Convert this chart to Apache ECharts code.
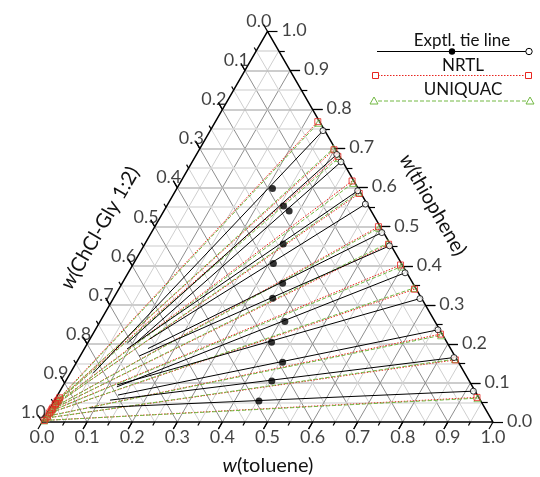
<!DOCTYPE html>
<html>
<head>
<meta charset="utf-8">
<script src="https://cdn.jsdelivr.net/npm/echarts@6/dist/echarts.min.js"></script>
<style>
  html, body { margin: 0; background: #fff; }
  #main { width: 540px; height: 477px; }
</style>
</head>
<body>
<div id="main"></div>
<script>
// tick values and labels (shared by the three ternary axes)
const ticks = [0, 0.1, 0.2, 0.3, 0.4, 0.5, 0.6, 0.7, 0.8, 0.9, 1.0];
const tickLabels = ['0.0', '0.1', '0.2', '0.3', '0.4', '0.5', '0.6', '0.7', '0.8', '0.9', '1.0'];
const gridSteps = [0.05, 0.1, 0.15, 0.2, 0.25, 0.3, 0.35, 0.4, 0.45, 0.5, 0.55, 0.6, 0.65, 0.7, 0.75, 0.8, 0.85, 0.9, 0.95];

// experimental tie lines: mass fractions (toluene, thiophene)
const expExtTol   = [0.051, 0.088, 0.106, 0.095, 0.133, 0.141, 0.131, 0.121, 0.119, 0.134, 0.123, 0.088];
const expExtThio  = [0.125, 0.202, 0.201, 0.187, 0.213, 0.188, 0.169, 0.090, 0.095, 0.069, 0.056, 0.036];
const expFeedTol  = [0.212, 0.259, 0.278, 0.307, 0.310, 0.356, 0.353, 0.410, 0.407, 0.457, 0.457, 0.454];
const expFeedThio = [0.598, 0.553, 0.540, 0.456, 0.406, 0.355, 0.317, 0.257, 0.204, 0.153, 0.105, 0.054];
const expRaffTol  = [0.250, 0.311, 0.330, 0.404, 0.438, 0.511, 0.545, 0.614, 0.680, 0.760, 0.831, 0.917];
const expRaffThio = [0.746, 0.685, 0.666, 0.592, 0.558, 0.485, 0.451, 0.382, 0.316, 0.236, 0.165, 0.079];

// NRTL correlation
const nrtlExtTol   = [0.008, 0.008, 0.007, 0.007, 0.007, 0.006, 0.006, 0.006, 0.005, 0.005, 0.004, 0.003];
const nrtlExtThio  = [0.062, 0.056, 0.053, 0.047, 0.044, 0.036, 0.032, 0.028, 0.023, 0.015, 0.010, 0.004];
const nrtlRaffTol  = [0.227, 0.299, 0.316, 0.379, 0.411, 0.496, 0.541, 0.594, 0.656, 0.771, 0.837, 0.933];
const nrtlRaffThio = [0.769, 0.697, 0.680, 0.617, 0.585, 0.500, 0.455, 0.402, 0.340, 0.225, 0.159, 0.063];

// UNIQUAC correlation
const uniqExtTol   = [0.009, 0.008, 0.008, 0.007, 0.007, 0.006, 0.006, 0.005, 0.005, 0.005, 0.004, 0.003];
const uniqExtThio  = [0.060, 0.055, 0.052, 0.046, 0.043, 0.036, 0.032, 0.027, 0.023, 0.015, 0.010, 0.004];
const uniqRaffTol  = [0.230, 0.296, 0.320, 0.384, 0.408, 0.499, 0.538, 0.598, 0.653, 0.774, 0.835, 0.935];
const uniqRaffThio = [0.766, 0.700, 0.676, 0.612, 0.588, 0.497, 0.458, 0.398, 0.343, 0.222, 0.161, 0.061];

const FONT = 'Lato';
const RED = '#e8251f';
const GREEN = '#72b843';
const S = Math.sqrt(3) / 2;
const U = 451; // pixels per unit (triangle side)

// ternary (toluene, thiophene) -> cartesian
let P = (t, h) => [t + h / 2, h * S];
let add = (p, d, len) => [p[0] + d[0] * len / U, p[1] + d[1] * len / U];

// triangular grid
let gridData = [];
gridSteps.forEach((v, i) => {
  let major = i % 2 === 1;
  gridData.push({ coords: [P(0, v), P(1 - v, v)],
    lineStyle: { color: major ? '#bdbdbd' : '#dcdcdc', width: 1.6 } });
  gridData.push({ coords: [P(v, 0), P(v, 1 - v)],
    lineStyle: { color: major ? '#8e8e8e' : '#cfcfcf', width: 1 } });
  gridData.push({ coords: [P(1 - v, 0), P(0, 1 - v)],
    lineStyle: { color: major ? '#8e8e8e' : '#cfcfcf', width: 1 } });
});

// ticks on the three sides
let tickData = [];
let dBottom = [-0.5, -S], dRight = [1, 0], dLeft = [-0.5, S];
gridSteps.concat(ticks).forEach(v => {
  let major = ticks.indexOf(v) >= 0;
  let len = major ? 8 : 4;
  tickData.push({ coords: [P(v, 0), add(P(v, 0), dBottom, len)] });
  tickData.push({ coords: [P(1 - v, v), add(P(1 - v, v), dRight, len + 2)] });
  tickData.push({ coords: [P(0, 1 - v), add(P(0, 1 - v), dLeft, len)] });
});

let labelSeries = (points, label) => ({
  type: 'scatter', symbolSize: 0, silent: true, z: 10,
  data: points,
  label: Object.assign({ show: true, color: '#111', fontFamily: FONT, fontSize: 18,
    formatter: p => p.value[2] }, label)
});

let segs = (at, ah, bt, bh) => at.map((_, i) => ({ coords: [P(at[i], ah[i]), P(bt[i], bh[i])] }));
let pts = (t, h) => t.map((_, i) => P(t[i], h[i]));

let title = (text, x, y, rot) => ({
  type: 'text', x: x, y: y, rotation: rot, z: 20,
  style: { text: text, fontFamily: FONT, fontSize: 20, fill: '#111',
    align: 'center', verticalAlign: 'middle', textAlign: 'center', textVerticalAlign: 'middle',
    rich: { i: { fontStyle: 'italic', fontFamily: FONT, fontSize: 20 } } }
});
let legendText = (text, x, y) => ({
  type: 'text', x: x, y: y, z: 20,
  style: { text: text, fontFamily: FONT, fontSize: 17, fill: '#111',
    align: 'center', verticalAlign: 'middle', textAlign: 'center', textVerticalAlign: 'middle' }
});

var myChart = echarts.init(document.getElementById('main'));

var option = {
  animation: false,
  grid: { left: 0, top: 0, right: 0, bottom: 0 },
  xAxis: { type: 'value', min: -42 / U, max: 498 / U, show: false },
  yAxis: { type: 'value', min: -55 / U, max: 422 / U, show: false },
  series: [
    { type: 'lines', coordinateSystem: 'cartesian2d', silent: true, z: 1,
      lineStyle: { opacity: 1 }, data: gridData },
    {
      type: 'line', silent: true, z: 3, symbol: 'none',
      lineStyle: { color: '#000', width: 1.5 },
      data: [P(0, 0), P(1, 0), P(0, 1), P(0, 0)]
    },
    { type: 'lines', coordinateSystem: 'cartesian2d', silent: true, z: 3,
      lineStyle: { color: '#000', width: 1.2, opacity: 1 }, data: tickData },
    // NRTL
    { type: 'lines', coordinateSystem: 'cartesian2d', silent: true, z: 4,
      lineStyle: { color: RED, width: 1, type: [1.5, 1.5], opacity: 1 },
      data: segs(nrtlExtTol, nrtlExtThio, nrtlRaffTol, nrtlRaffThio) },
    // UNIQUAC
    { type: 'lines', coordinateSystem: 'cartesian2d', silent: true, z: 4,
      lineStyle: { color: GREEN, width: 1, type: [4, 2], opacity: 1 },
      data: segs(uniqExtTol, uniqExtThio, uniqRaffTol, uniqRaffThio) },
    // experimental
    { type: 'lines', coordinateSystem: 'cartesian2d', silent: true, z: 5,
      lineStyle: { color: '#000', width: 1, opacity: 1 },
      data: segs(expExtTol, expExtThio, expRaffTol, expRaffThio) },
    { type: 'scatter', silent: true, z: 6, symbol: 'triangle', symbolSize: 7,
      itemStyle: { color: 'rgba(0,0,0,0)', borderColor: GREEN, borderWidth: 1 },
      data: pts(uniqExtTol, uniqExtThio).concat(pts(uniqRaffTol, uniqRaffThio)) },
    { type: 'scatter', silent: true, z: 6, symbol: 'rect', symbolSize: 6,
      itemStyle: { color: 'rgba(0,0,0,0)', borderColor: RED, borderWidth: 1 },
      data: pts(nrtlExtTol, nrtlExtThio).concat(pts(nrtlRaffTol, nrtlRaffThio)) },
    { type: 'scatter', silent: true, z: 7, symbol: 'circle', symbolSize: 6,
      itemStyle: { color: '#fff', borderColor: '#000', borderWidth: 1 },
      data: pts(expRaffTol, expRaffThio) },
    { type: 'scatter', silent: true, z: 7, symbol: 'circle', symbolSize: 7,
      itemStyle: { color: '#000' },
      data: pts(expFeedTol, expFeedThio) },
    // tick labels
    labelSeries(ticks.map((v, i) => P(v, 0).concat(tickLabels[i])),
      { position: 'bottom', distance: 6 }),
    labelSeries(ticks.map((v, i) => P(1 - v, v).concat(tickLabels[i])),
      { position: 'right', distance: 14, offset: [0, -1] }),
    labelSeries(ticks.map((v, i) => P(0, 1 - v).concat(tickLabels[i])),
      { position: 'left', distance: 0, offset: [4, -10] })
  ],
  graphic: [
    title('{i|w}(toluene)', 268, 466, 0),
    title('{i|w}(thiophene)', 433, 205, -Math.PI / 3),
    title('{i|w}(ChCl-Gly 1:2)', 100, 228, Math.PI / 3),
    // legend
    legendText('Exptl. tie line', 462, 41),
    { type: 'line', z: 20, shape: { x1: 377, y1: 51.5, x2: 526, y2: 51.5 }, style: { stroke: '#000', lineWidth: 1 } },
    { type: 'circle', z: 21, shape: { cx: 452, cy: 51.5, r: 3.2 }, style: { fill: '#000' } },
    { type: 'circle', z: 21, shape: { cx: 529, cy: 51.5, r: 3.2 }, style: { fill: '#fff', stroke: '#000', lineWidth: 1 } },
    legendText('NRTL', 463, 66),
    { type: 'line', z: 20, shape: { x1: 378, y1: 75.5, x2: 526, y2: 75.5 }, style: { stroke: RED, lineWidth: 1, lineDash: [1.5, 1.5] } },
    { type: 'rect', z: 21, shape: { x: 372.5, y: 72.5, width: 6, height: 6 }, style: { fill: 'none', stroke: RED, lineWidth: 1 } },
    { type: 'rect', z: 21, shape: { x: 525.5, y: 72.5, width: 6, height: 6 }, style: { fill: 'none', stroke: RED, lineWidth: 1 } },
    legendText('UNIQUAC', 463, 90),
    { type: 'line', z: 20, shape: { x1: 378, y1: 101, x2: 526, y2: 101 }, style: { stroke: GREEN, lineWidth: 1, lineDash: [4, 2] } },
    { type: 'polygon', z: 21, shape: { points: [[374, 97], [378, 104], [370, 104]] }, style: { fill: 'none', stroke: GREEN, lineWidth: 1 } },
    { type: 'polygon', z: 21, shape: { points: [[530, 97], [534, 104], [526, 104]] }, style: { fill: 'none', stroke: GREEN, lineWidth: 1 } }
  ]
};

myChart.setOption(option);
</script>
</body>
</html>
